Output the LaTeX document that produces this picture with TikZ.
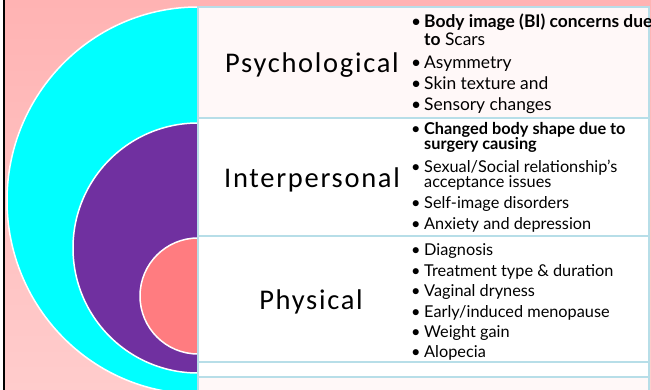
\documentclass[tikz,border=0pt]{standalone}
\usepackage{fontspec}
\setmainfont{Lato}
\newfontfamily\lblfont[LetterSpace=6]{Carlito}
\usetikzlibrary{positioning}
\definecolor{bgPinkTop}{HTML}{FFB3B3}
\definecolor{bgPinkBot}{HTML}{FFCCCC}
\definecolor{ringCyan}{HTML}{00FFFF}
\definecolor{ringPurple}{HTML}{7030A0}
\definecolor{ringSalmon}{HTML}{FF7C80}
\definecolor{cellLine}{HTML}{B7DEE8}
\definecolor{cellPink}{HTML}{FFF8F8}
\newcommand{\bul}{\makebox[13pt][l]{\textbullet}}
\tikzset{
  ring/.style  = {draw=white, line width=1.5pt, fill=#1},
  cell/.style  = {draw=cellLine, line width=2pt, fill=#1},
  lbl/.style   = {font=\lblfont\fontsize{28.5}{30}\selectfont, inner sep=0pt, anchor=base},
  itm/.style   = {font=\fontsize{16.3}{18}\selectfont, inner sep=0pt, anchor=base west},
  itmbig/.style = {itm, font=\fontsize{17.4}{18}\selectfont},
}
\begin{document}
\begin{tikzpicture}[x=1pt,y=-1pt]
  \clip (0,0) rectangle (651,390);
  % background
  \shade[top color=bgPinkTop, bottom color=bgPinkBot] (0,0) rectangle (651,390);
  \fill[white] (0,0) rectangle (3,390);
  \draw[black, line width=1.6pt] (4,0) -- (4,390);
  % nested rings
  \draw[ring=ringCyan] (198,200.5) ellipse [x radius=191, y radius=193.5];
  \draw[ring=ringPurple] (198,248) circle [radius=125];
  \draw[ring=ringSalmon] (198,296) circle [radius=58];
  % rows
  \draw[cell=cellPink] (198,7) rectangle (649,118);
  \draw[cell=white] (198,118) rectangle (649,236);
  \draw[cell=white] (198,236) rectangle (649,362);
  \draw[cell=white] (198,362) rectangle (649,377);
  \draw[cell=cellPink] (198,377) rectangle (649,396);
  % labels
  \node[lbl] (psych) at (312,73) {Psychological};
  \node[lbl] (inter) at (312,188) {Interpersonal};
  \node[lbl] (phys) at (311,309) {Physical};
  % psychological items
  \node[itmbig] (psychA) at (411,28) {\bul\textbf{Body image (BI) concerns due}};
  \node[itmbig] (psychAb) at (424,46) {\textbf{to} Scars};
  \node[itmbig] (psychB) at (411,69) {\bul Asymmetry};
  \node[itmbig] (psychC) at (411,90) {\bul Skin texture and};
  \node[itmbig] (psychD) at (411,111) {\bul Sensory changes};
  % interpersonal items
  \node[itm] (interA) at (411,135) {\bul\textbf{Changed body shape due to}};
  \node[itm] (interAb) at (424,150) {\textbf{surgery causing}};
  \node[itm] (interB) at (411,173) {\bul Sexual/Social relationship’s};
  \node[itm] (interBb) at (424,188) {acceptance issues};
  \node[itm] (interC) at (411,209) {\bul Self-image disorders};
  \node[itm] (interD) at (411,230) {\bul Anxiety and depression};
  % physical items
  \foreach \txt [count=\n] in {Diagnosis, Treatment type \& duration, Vaginal dryness,
      Early/induced menopause, Weight gain, Alopecia}
    \node[itm] (phys\n) at (411,{235.5+20.4*\n}) {\bul\txt};
\end{tikzpicture}
\end{document}
